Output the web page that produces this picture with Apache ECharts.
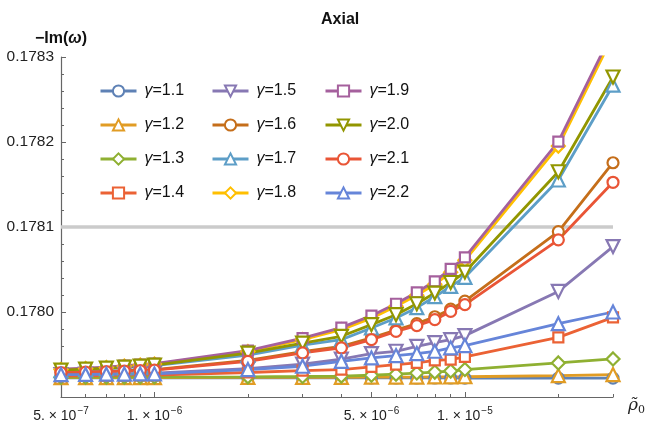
<!DOCTYPE html>
<html><head><meta charset="utf-8">
<script src="https://cdn.jsdelivr.net/npm/echarts@6/dist/echarts.min.js"></script>
<style>html,body{margin:0;padding:0;background:#fff}#c{width:648px;height:423px}</style>
</head><body><div id="c"></div>
<script>
// ---- data ----
const xValues = [5e-7,6e-7,7e-7,8e-7,9e-7,1e-6,2e-6,3e-6,4e-6,5e-6,6e-6,7e-6,8e-6,9e-6,1e-5,2e-5,3e-5];
const g11 = [0.1779226,0.1779226,0.1779226,0.1779226,0.1779226,0.1779226,0.1779225,0.1779225,0.1779224,0.1779224,0.1779224,0.1779224,0.1779224,0.1779224,0.1779223,0.1779223,0.1779223];
const g12 = [0.1779229,0.1779229,0.1779229,0.1779229,0.1779229,0.1779229,0.1779230,0.1779231,0.1779232,0.1779234,0.1779235,0.1779235,0.1779236,0.1779237,0.1779238,0.1779252,0.1779264];
const g13 = [0.1779232,0.1779232,0.1779234,0.1779234,0.1779235,0.1779235,0.1779237,0.1779241,0.1779246,0.1779256,0.1779268,0.1779282,0.1779293,0.1779305,0.1779323,0.1779401,0.1779448];
const g14 = [0.1779246,0.1779249,0.1779251,0.1779253,0.1779256,0.1779258,0.1779288,0.1779311,0.1779323,0.1779355,0.1779381,0.1779401,0.1779432,0.1779440,0.1779472,0.1779702,0.1779937];
const g15 = [0.1779264,0.1779270,0.1779272,0.1779276,0.1779279,0.1779282,0.1779335,0.1779387,0.1779446,0.1779511,0.1779538,0.1779596,0.1779640,0.1779675,0.1779722,0.1780242,0.1780770];
const g16 = [0.1779291,0.1779297,0.1779303,0.1779310,0.1779316,0.1779322,0.1779430,0.1779533,0.1779595,0.1779697,0.1779786,0.1779863,0.1779944,0.1780033,0.1780127,0.1780946,0.1781756];
const g17 = [0.1779311,0.1779323,0.1779335,0.1779346,0.1779358,0.1779370,0.1779493,0.1779610,0.1779675,0.1779812,0.1779930,0.1780051,0.1780180,0.1780301,0.1780408,0.1781553,0.1782668];
const g18 = [0.1779323,0.1779335,0.1779346,0.1779364,0.1779376,0.1779387,0.1779534,0.1779675,0.1779792,0.1779927,0.1780068,0.1780197,0.1780326,0.1780467,0.1780608,0.1781952,0.1783249];
const g19 = [0.1779329,0.1779340,0.1779352,0.1779370,0.1779381,0.1779393,0.1779546,0.1779692,0.1779816,0.1779957,0.1780097,0.1780232,0.1780361,0.1780508,0.1780643,0.1782005,0.1783307];
const g20 = [0.1779317,0.1779329,0.1779340,0.1779352,0.1779364,0.1779376,0.1779516,0.1779634,0.1779714,0.1779851,0.1779968,0.1780097,0.1780223,0.1780347,0.1780470,0.1781650,0.1782765];
const g21 = [0.1779288,0.1779293,0.1779299,0.1779305,0.1779311,0.1779317,0.1779420,0.1779519,0.1779578,0.1779675,0.1779772,0.1779839,0.1779910,0.1780007,0.1780086,0.1780849,0.1781526];
const g22 = [0.1779264,0.1779266,0.1779269,0.1779270,0.1779271,0.1779272,0.1779323,0.1779362,0.1779420,0.1779460,0.1779487,0.1779511,0.1779538,0.1779578,0.1779605,0.1779863,0.1780000];
const seriesNames = ['1.1','1.2','1.3','1.4','1.5','1.6','1.7','1.8','1.9','2.0','2.1','2.2'];
const seriesValues = [g11,g12,g13,g14,g15,g16,g17,g18,g19,g20,g21,g22];
const yTickValues = [0.1780,0.1781,0.1782,0.1783];
const xMajorTicks = [5e-7,1e-6,5e-6,1e-5];
const xTickMantissa = ['5.','1.','5.','1.'];
const xTickExponent = ['−7','−6','−6','−5'];
const xMinorTicks = [6e-7,7e-7,8e-7,9e-7,2e-6,3e-6,4e-6,6e-6,7e-6,8e-6,9e-6,2e-5,3e-5];
const refLine = 0.1781;
const xMin = 5e-7, xMax = 3e-5, yMin = 0.1779, yMax = 0.1783;

// ---- styles ----
const colors = ['#5E81B5','#E19C24','#8FB032','#EB6235','#8778B3','#C56E1A','#5D9EC7','#FFBF00','#A5609D','#929600','#E95536','#6685D9'];
const symbols = ['circle','triangle','diamond','rect','triangle','circle','triangle','diamond','rect','triangle','circle','triangle'];
const rotates = [0,0,0,0,180,0,0,0,0,180,0,0];
const sizes = {circle:11, triangle:13, diamond:13, rect:10};

const L = Math.log10;
const chart = echarts.init(document.getElementById('c'), null, {renderer:'canvas'});

const series = seriesValues.map((vals, k) => ({
  name: 'γ=' + seriesNames[k],
  type: 'line',
  z: 3,
  xAxisIndex: 0,
  data: xValues.map((x, i) => [L(x), vals[i]]),
  symbol: symbols[k],
  symbolRotate: rotates[k],
  symbolSize: sizes[symbols[k]],
  showAllSymbol: true,
  lineStyle: {color: colors[k], width: 2.8},
  itemStyle: {color: '#fff', borderColor: colors[k], borderWidth: 2.2},
  emphasis: {disabled: true},
  clip: true
}));
series.unshift({
  name: 'ref', type: 'line', z: 1, symbol: 'none', silent: true,
  data: [[L(xMin), refLine], [L(xMax), refLine]],
  lineStyle: {color: '#cbcbcb', width: 3.5},
  emphasis: {disabled: true}
});

const legendCols = [0, 1, 2].map(c => ({
  orient: 'vertical',
  left: [94, 206, 319][c],
  top: 76,
  itemWidth: 36,
  itemHeight: 14,
  itemGap: 14,
  lineStyle: {width: 3},
  data: seriesNames.slice(c * 4, c * 4 + 4).map(n => 'γ=' + n),
  formatter: name => '{g|γ}{t|' + name.slice(1) + '}',
  textStyle: {
    lineHeight: 20,
    rich: {
      g: {fontFamily: 'Liberation Sans', fontStyle: 'italic', fontSize: 16, color: '#111', padding: [0, 0, 0, 3]},
      t: {fontFamily: 'Liberation Sans', fontSize: 16, color: '#111'}
    }
  },
  selectedMode: false
}));

chart.setOption({
  animation: false,
  backgroundColor: '#fff',
  title: {text: 'Axial', left: 316, top: 7, textStyle: {fontFamily: 'Liberation Sans', fontWeight: 'bold', fontSize: 16, color: '#111'}},
  legend: legendCols,
  grid: {left: 61, right: 34, top: 57, bottom: 26},
  xAxis: [{
    type: 'value', position: 'bottom',
    min: L(xMin), max: L(xMax),
    axisLine: {show: true, lineStyle: {color: '#666', width: 1.2}},
    axisTick: {show: true, inside: true, length: 5, customValues: xMajorTicks.map(L), lineStyle: {color: '#666'}},
    axisLabel: {
      customValues: xMajorTicks.map(L), margin: 9,
      formatter: (v) => {
        const i = xMajorTicks.findIndex(t => Math.abs(L(t) - v) < 1e-6);
        return i < 0 ? '' : '{m|' + xTickMantissa[i] + ' × 10}{e|' + xTickExponent[i] + '}';
      },
      rich: {
        m: {fontFamily: 'Liberation Sans', fontSize: 14, color: '#222'},
        e: {fontFamily: 'Liberation Sans', fontSize: 10, color: '#222', padding: [0, 0, 10, 1]}
      }
    },
    splitLine: {show: false},
    name: '{r|ρ̃}{s|0}', nameLocation: 'end', nameGap: 15,
    nameTextStyle: {
      padding: [18, 0, 0, 0],
      rich: {
        r: {fontFamily: 'DejaVu Serif', fontStyle: 'italic', fontSize: 17, color: '#222'},
        s: {fontFamily: 'DejaVu Serif', fontSize: 11, color: '#222', padding: [8, 0, 0, 0]}
      }
    }
  }, {
    type: 'value', position: 'bottom',
    min: L(xMin), max: L(xMax),
    axisLine: {show: false},
    axisTick: {show: true, inside: true, length: 3, customValues: xMinorTicks.map(L), lineStyle: {color: '#666'}},
    axisLabel: {show: false},
    splitLine: {show: false}
  }],
  yAxis: {
    type: 'value', min: yMin, max: yMax, interval: 0.0001,
    axisLine: {show: true, lineStyle: {color: '#666', width: 1.2}},
    axisTick: {show: true, inside: true, length: 5, lineStyle: {color: '#666'}},
    minorTick: {show: true, splitNumber: 5, length: 3, lineStyle: {color: '#666'}},
    axisLabel: {
      margin: 7, fontFamily: 'Liberation Sans', fontSize: 15.5, color: '#222',
      formatter: v => (yTickValues.some(t => Math.abs(t - v) < 1e-9) ? v.toFixed(4) : '')
    },
    splitLine: {show: false},
    name: '{b|−Im(}{w|ω}{b|)}', nameLocation: 'end', nameGap: 10,
    nameTextStyle: {
      rich: {
        b: {fontFamily: 'Liberation Sans', fontWeight: 'bold', fontSize: 16, color: '#111'},
        w: {fontFamily: 'Liberation Sans', fontWeight: 'bold', fontStyle: 'italic', fontSize: 16, color: '#111'}
      }
    }
  },
  series: series
});
</script></body></html>
